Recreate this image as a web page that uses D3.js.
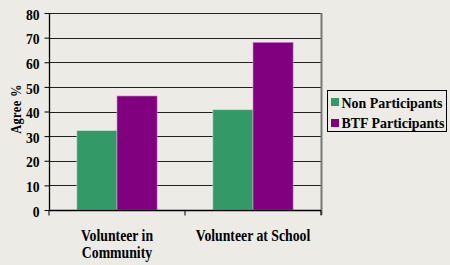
<!DOCTYPE html>
<html>
<head>
<meta charset="utf-8">
<script src="https://cdn.jsdelivr.net/npm/d3@7"></script>
<style>
  body { margin: 0; background: #ecebe6; }
  svg { display: block; }
</style>
</head>
<body>
<div id="chart"></div>
<script>
// data
var categories = [["Volunteer in", "Community"], ["Volunteer at School"]];
var seriesNames = ["Non Participants", "BTF Participants"];
var nonParticipants = [32.2, 40.7];
var btfParticipants = [46.3, 68.1];
var yTicks = [0, 10, 20, 30, 40, 50, 60, 70, 80];
var colors = ["#339966", "#800080"];

var width = 450, height = 265,
    margin = {top: 13, right: 129, bottom: 55, left: 49};
var FONT = "'Liberation Serif', 'Times New Roman', serif";

var svg = d3.select("#chart").append("svg")
  .attr("width", width)
  .attr("height", height)
  .attr("font-family", FONT)
  .attr("font-weight", "bold");

var x = d3.scaleBand()
  .domain(d3.range(categories.length))
  .range([margin.left, width - margin.right])
  .paddingInner(0.41)
  .paddingOuter(0.205);

var xs = d3.scaleBand()
  .domain(d3.range(seriesNames.length))
  .range([0, x.bandwidth()]);

var y = d3.scaleLinear()
  .domain([0, 80])
  .range([height - margin.bottom, margin.top]);

// condensed text helper (reference type is narrow)
function ctext(g, tx, ty, sx, size, str) {
  return g.append("text")
    .attr("transform", "translate(" + tx + "," + ty + ") scale(" + sx + ",1)")
    .attr("font-size", size)
    .attr("fill", "#000")
    .text(str);
}

// gridlines
svg.append("g")
  .selectAll("line")
  .data(yTicks.slice(1))
  .join("line")
  .attr("x1", margin.left)
  .attr("x2", width - margin.right)
  .attr("y1", function(d) { return Math.round(y(d)) + 0.5; })
  .attr("y2", function(d) { return Math.round(y(d)) + 0.5; })
  .attr("stroke", "#222")
  .attr("stroke-width", 1);

// right border of plot
svg.append("line")
  .attr("x1", width - margin.right + 0.5)
  .attr("x2", width - margin.right + 0.5)
  .attr("y1", y(80))
  .attr("y2", y(0) + 5)
  .attr("stroke", "#777")
  .attr("stroke-width", 2);

// bars
var series = [nonParticipants, btfParticipants];
series.forEach(function(vals, s) {
  svg.append("g")
    .selectAll("rect")
    .data(vals)
    .join("rect")
    .attr("x", function(d, i) { return x(i) + xs(s); })
    .attr("y", function(d) { return y(d); })
    .attr("width", xs.bandwidth())
    .attr("height", function(d) { return y(0) - y(d); })
    .attr("fill", colors[s])
    .attr("stroke", s === 0 ? "#b9e0c8" : "#d58bd5")
    .attr("stroke-width", 0.6);
});

// y axis
var yAxis = d3.axisLeft(y)
  .tickValues(yTicks)
  .tickSize(5);

var gy = svg.append("g")
  .attr("transform", "translate(" + (margin.left + 0.5) + ",0)")
  .call(yAxis);
gy.attr("font-family", FONT);
gy.select(".domain").attr("stroke", "#000").attr("stroke-width", 1.3).attr("d", "M0," + y(80) + "V" + y(0));
gy.selectAll(".tick line").attr("stroke", "#000");
gy.selectAll(".tick text")
  .attr("font-size", 15.5)
  .attr("font-weight", "bold")
  .attr("fill", "#000")
  .attr("transform", "scale(0.88,1)")
  .attr("x", -10 / 0.88)
  .attr("dy", "0.4em");

// x axis
var gx = svg.append("g")
  .attr("transform", "translate(0," + (Math.round(y(0)) + 0.5) + ")");
gx.append("line")
  .attr("x1", margin.left)
  .attr("x2", width - margin.right)
  .attr("stroke", "#000")
  .attr("stroke-width", 1.3);
gx.selectAll(".xt")
  .data([margin.left, (margin.left + width - margin.right) / 2, width - margin.right])
  .join("line")
  .attr("class", "xt")
  .attr("x1", function(d) { return d; })
  .attr("x2", function(d) { return d; })
  .attr("y1", 0)
  .attr("y2", 5)
  .attr("stroke", "#000");

var gcat = svg.append("g").attr("text-anchor", "middle");
categories.forEach(function(lines, i) {
  lines.forEach(function(line, j) {
    ctext(gcat, x(i) + x.bandwidth() / 2, y(0) + 31 + j * 16.5, 0.86, 16, line);
  });
});

// y label
svg.append("text")
  .attr("transform", "translate(20.5,109) rotate(-90) scale(0.85,1)")
  .attr("text-anchor", "middle")
  .attr("font-size", 14.5)
  .attr("letter-spacing", "0.5px")
  .text("Agree %");

// legend
var lg = svg.append("g").attr("transform", "translate(327.5,90.5)");
lg.append("rect")
  .attr("width", 119)
  .attr("height", 41)
  .attr("fill", "none")
  .attr("stroke", "#000")
  .attr("stroke-width", 1);
seriesNames.forEach(function(name, i) {
  lg.append("rect")
    .attr("x", 3.5)
    .attr("y", 7.5 + i * 21)
    .attr("width", 8)
    .attr("height", 8)
    .attr("fill", colors[i]);
  ctext(lg, 14, 17.5 + i * 20, 0.93, 15, name);
});
</script>
</body>
</html>
